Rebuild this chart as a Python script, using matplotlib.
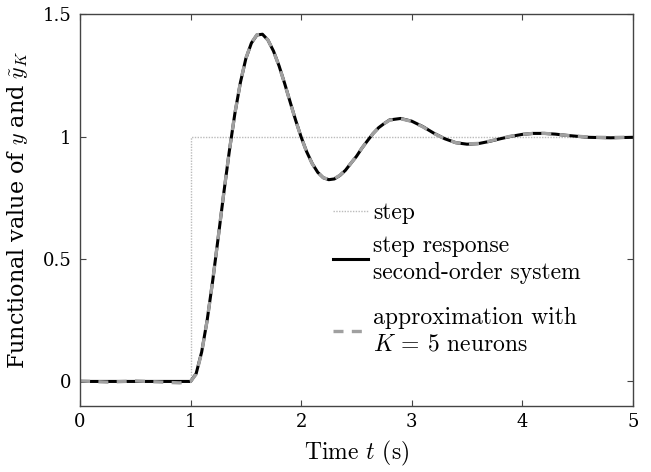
import matplotlib
matplotlib.use("Agg")
import matplotlib.pyplot as plt

# Schriften im LaTeX-Stil
plt.rcParams['font.family'] = ['cmr10', 'DejaVu Serif']
plt.rcParams['mathtext.fontset'] = 'cm'
plt.rcParams['axes.formatter.use_mathtext'] = True
plt.rcParams['axes.unicode_minus'] = False

# Sprungfunktion
t_step = [0.0, 1.0, 1.0, 5.0]
y_step = [0.0, 0.0, 1.0, 1.0]

# Sprungantwort
t_resp = [0.0, 0.25, 0.5, 0.75, 0.9, 1.0, 1.05, 1.10, 1.15, 1.20, 1.25, 1.30, 1.35,
          1.40, 1.45, 1.50, 1.55, 1.60, 1.65, 1.70, 1.75, 1.80, 1.85, 1.90, 1.95,
          2.00, 2.05, 2.10, 2.15, 2.20, 2.25, 2.30, 2.35, 2.40, 2.45, 2.50, 2.55,
          2.60, 2.65, 2.70, 2.75, 2.80, 2.90, 3.00, 3.10, 3.20, 3.30, 3.40, 3.50,
          3.60, 3.70, 3.80, 3.90, 4.00, 4.10, 4.20, 4.30, 4.40, 4.60, 4.80, 5.00]
y_resp = [0.0, 0.0, 0.0, 0.0, 0.0, 0.0, 0.032, 0.120, 0.251, 0.412, 0.589, 0.769, 0.940,
          1.093, 1.220, 1.319, 1.382, 1.415, 1.418, 1.394, 1.349, 1.289, 1.218, 1.142, 1.067,
          0.998, 0.938, 0.890, 0.854, 0.832, 0.824, 0.827, 0.841, 0.862, 0.891, 0.919, 0.953,
          0.983, 1.012, 1.036, 1.053, 1.068, 1.074, 1.063, 1.041, 1.014, 0.991, 0.975, 0.969,
          0.971, 0.980, 0.991, 1.001, 1.009, 1.013, 1.013, 1.010, 1.005, 0.997, 0.995, 0.997]

# Approximation mit K = 5 Neuronen
y_approx = [0.002, -0.003, 0.002, -0.003, -0.006, 0.0, 0.030, 0.118, 0.250, 0.412, 0.590, 0.770, 0.941,
            1.094, 1.221, 1.320, 1.383, 1.416, 1.418, 1.394, 1.348, 1.288, 1.217, 1.141, 1.066,
            0.997, 0.937, 0.889, 0.854, 0.832, 0.825, 0.828, 0.842, 0.863, 0.891, 0.920, 0.953,
            0.983, 1.012, 1.036, 1.053, 1.067, 1.073, 1.062, 1.040, 1.013, 0.991, 0.975, 0.970,
            0.972, 0.981, 0.992, 1.002, 1.009, 1.013, 1.013, 1.010, 1.005, 0.998, 0.996, 0.998]

x_ticks = [0, 1, 2, 3, 4, 5]
y_ticks = [0, 0.5, 1, 1.5]
y_ticklabels = ["0", "0.5", "1", "1.5"]

fig = plt.figure(figsize=(6.51, 4.72), dpi=100)
ax = fig.add_axes([0.123, 0.140, 0.849, 0.830])

l_step, = ax.plot(t_step, y_step, color="#bbbbbb", lw=1.0, ls=(0, (1, 1)), label="step")
l_resp, = ax.plot(t_resp, y_resp, color="black", lw=2.2, label="step response\nsecond-order system")
l_appr, = ax.plot(t_resp, y_approx, color="#a0a0a0", lw=2.4, ls=(0, (3, 2.5)),
                  label="approximation with\n$K$ = 5 neurons")

ax.set_xlim(0, 5)
ax.set_ylim(-0.1, 1.5)
ax.set_xticks(x_ticks)
ax.set_xticklabels([str(v) for v in x_ticks])
ax.set_yticks(y_ticks)
ax.set_yticklabels(y_ticklabels)
ax.tick_params(direction="in", length=4, width=0.8, color="#444444",
               top=True, right=True, labelsize=13)
ax.tick_params(axis="x", pad=5)
ax.tick_params(axis="y", pad=6)
for lab in ax.get_xticklabels() + ax.get_yticklabels():
    lab.set_fontfamily("DejaVu Serif")
for s in ax.spines.values():
    s.set_color("#444444")
    s.set_linewidth(1.0)

ax.set_xlabel("Time $t$ (s)", fontsize=17, labelpad=6)
ax.set_ylabel(r"Functional value of $y$ and $\tilde{y}_K$", fontsize=16,
              family="DejaVu Serif", labelpad=9)

# Legende in zwei Blöcken, damit der Abstand zum letzten Eintrag passt
leg_opts = dict(loc="upper left", frameon=False, fontsize=17, handlelength=1.5,
                handletextpad=0.2, labelspacing=0.45, borderaxespad=0.0)
leg1 = ax.legend(handles=[l_step, l_resp], bbox_to_anchor=(0.44, 0.545), **leg_opts)
for txt in leg1.get_texts():
    txt.set_linespacing(1.28)
ax.add_artist(leg1)
leg2 = ax.legend(handles=[l_appr], bbox_to_anchor=(0.44, 0.278), **leg_opts)
for txt in leg2.get_texts():
    txt.set_linespacing(1.28)

fig.savefig("out.png", dpi=100)
